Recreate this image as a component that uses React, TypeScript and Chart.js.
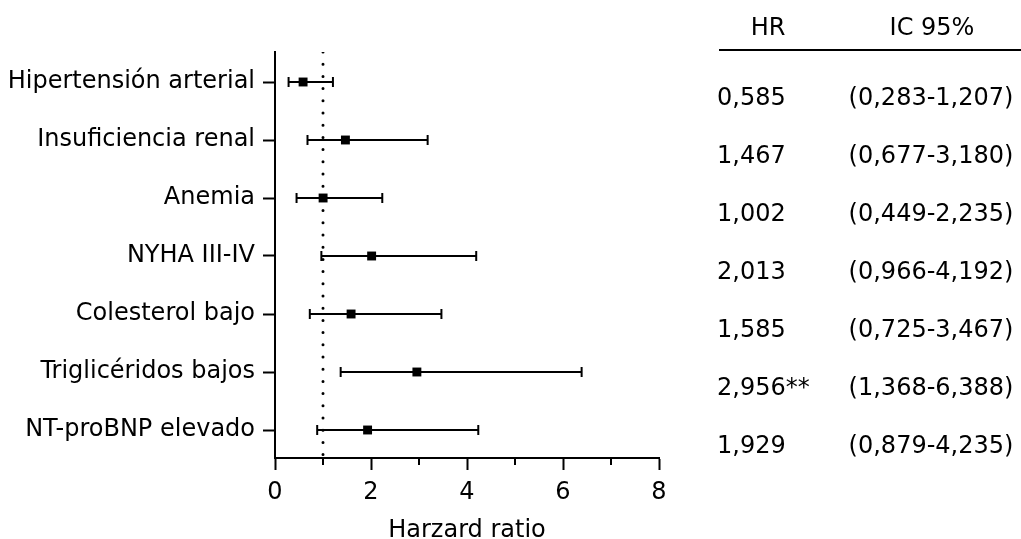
import React, { useEffect, useRef } from 'react';
import { Chart, registerables } from 'chart.js';

Chart.register(...registerables);

// Forest plot data: hazard ratios with 95% confidence intervals
const categories = [
  'Hipertensión arterial',
  'Insuficiencia renal',
  'Anemia',
  'NYHA III-IV',
  'Colesterol bajo',
  'Triglicéridos bajos',
  'NT-proBNP elevado',
];
const hazardRatios = [0.585, 1.467, 1.002, 2.013, 1.585, 2.956, 1.929];
const ciLower = [0.283, 0.677, 0.449, 0.966, 0.725, 1.368, 0.879];
const ciUpper = [1.207, 3.18, 2.235, 4.192, 3.467, 6.388, 4.235];
const significance = ['', '', '', '', '', '**', ''];
const xTicks = [0, 2, 4, 6, 8];
const xMinorTicks = [1, 3, 5, 7];
const referenceHR = 1;
const tableHeaders = ['HR', 'IC 95%'];
const xTitle = 'Harzard ratio';

const FONT = '"DejaVu Sans", Verdana, sans-serif';
const INK = '#000';

// y range chosen so each row lands on a whole pixel
const Y_MIN = 1 - 30 / 58;
const Y_MAX = Y_MIN + 7;

const fmt = (v: number) => v.toFixed(3).replace('.', ',');

// Minor axis ticks plus the HR / IC 95% table to the right of the plot
const tablePlugin = {
  id: 'forestTable',
  afterDraw(chart: any) {
    const { ctx, chartArea, scales } = chart;
    const xs = scales.x;
    const ys = scales.y;
    ctx.save();
    ctx.strokeStyle = INK;
    ctx.lineWidth = 2;
    xMinorTicks.forEach((v) => {
      const px = Math.round(xs.getPixelForValue(v));
      ctx.beginPath();
      ctx.moveTo(px, chartArea.bottom);
      ctx.lineTo(px, chartArea.bottom + 7);
      ctx.stroke();
    });

    ctx.fillStyle = INK;
    ctx.font = `24px ${FONT}`;
    ctx.textBaseline = 'middle';
    ctx.textAlign = 'center';
    ctx.fillText(tableHeaders[0], 768, 29);
    ctx.fillText(tableHeaders[1], 932, 29);

    ctx.beginPath();
    ctx.moveTo(719, 50);
    ctx.lineTo(1021, 50);
    ctx.stroke();

    categories.forEach((_, i) => {
      const y = ys.getPixelForValue(i + 1) + 17;
      ctx.textAlign = 'left';
      ctx.fillText(fmt(hazardRatios[i]) + significance[i], 717, y);
      ctx.textAlign = 'center';
      ctx.fillText(`(${fmt(ciLower[i])}-${fmt(ciUpper[i])})`, 931, y);
    });
    ctx.restore();
  },
};

export default function App() {
  const canvasRef = useRef<HTMLCanvasElement | null>(null);

  useEffect(() => {
    const canvas = canvasRef.current;
    if (!canvas) return;

    const markers = {
      label: 'HR',
      data: hazardRatios.map((x, i) => ({ x, y: i + 1 })),
      pointStyle: 'rect',
      pointRadius: 6.3,
      pointBackgroundColor: INK,
      pointBorderWidth: 0,
      showLine: false,
      order: 0,
    };

    const intervals = categories.map((c, i) => ({
      label: c,
      data: [
        { x: ciLower[i], y: i + 1 },
        { x: ciUpper[i], y: i + 1 },
      ],
      showLine: true,
      borderColor: INK,
      borderWidth: 2,
      pointStyle: 'line',
      pointRotation: 90,
      pointRadius: 5,
      pointBorderWidth: 2,
      pointBorderColor: INK,
      order: 1,
    }));

    const reference = {
      label: 'ref',
      data: [
        { x: referenceHR, y: Y_MIN },
        { x: referenceHR, y: Y_MAX },
      ],
      showLine: true,
      borderColor: INK,
      borderWidth: 3,
      borderDash: [0, 12.2],
      borderCapStyle: 'round',
      pointRadius: 0,
      order: 2,
    };

    const chart = new Chart(canvas, {
      type: 'scatter',
      data: { datasets: [markers, ...intervals, reference] as any },
      plugins: [tablePlugin],
      options: {
        animation: false,
        responsive: false,
        devicePixelRatio: 1,
        layout: { padding: { left: 0, top: 52, right: 362, bottom: 0 } },
        plugins: { legend: { display: false }, tooltip: { enabled: false } },
        scales: {
          x: {
            type: 'linear',
            min: 0,
            max: 8,
            afterBuildTicks: (s: any) => {
              s.ticks = xTicks.map((value) => ({ value }));
            },
            afterFit: (s: any) => {
              s.height = 81;
            },
            grid: {
              display: true,
              drawOnChartArea: false,
              drawTicks: true,
              tickLength: 12,
              tickWidth: 2,
              tickColor: INK,
            },
            border: { display: true, color: INK, width: 2 },
            ticks: {
              color: INK,
              padding: 8,
              font: { family: FONT, size: 24 },
              maxRotation: 0,
            },
            title: {
              display: true,
              text: xTitle,
              color: INK,
              font: { family: FONT, size: 24, lineHeight: 1 },
              padding: { top: 0, bottom: -4 },
            },
          },
          y: {
            type: 'linear',
            reverse: true,
            min: Y_MIN,
            max: Y_MAX,
            afterBuildTicks: (s: any) => {
              s.ticks = categories.map((_, i) => ({ value: i + 1 }));
            },
            afterFit: (s: any) => {
              s.width = 275;
            },
            grid: {
              display: true,
              drawOnChartArea: false,
              drawTicks: true,
              tickLength: 12,
              tickWidth: 2,
              tickColor: INK,
            },
            border: { display: true, color: INK, width: 2 },
            ticks: {
              color: INK,
              padding: 8,
              autoSkip: false,
              font: { family: FONT, size: 24 },
              callback: (v: any) => categories[Math.round(Number(v)) - 1] ?? '',
            },
          },
        },
      } as any,
    });

    return () => chart.destroy();
  }, []);

  return (
    <div style={{ position: 'absolute', left: 0, top: 0, width: 1021, height: 539, background: '#fff' }}>
      <canvas ref={canvasRef} width={1021} height={539} />
    </div>
  );
}
